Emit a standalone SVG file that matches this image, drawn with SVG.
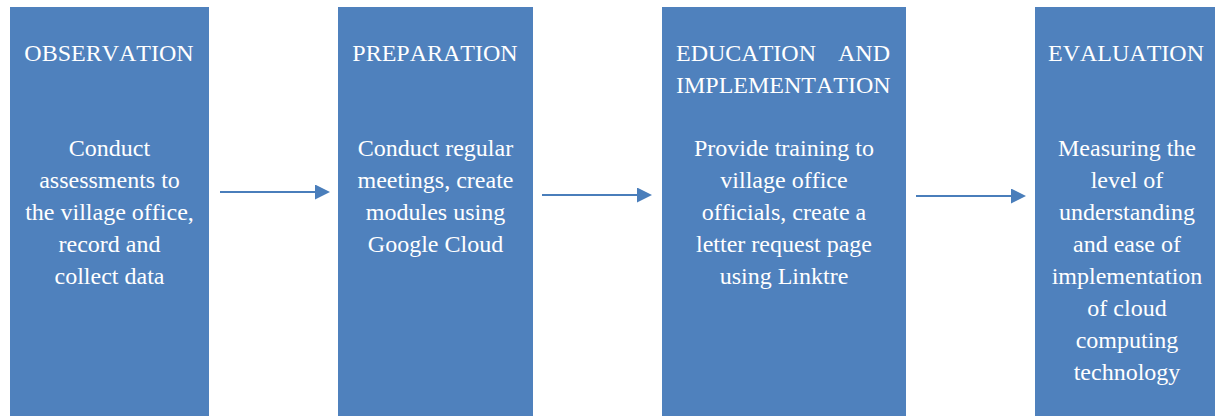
<svg xmlns="http://www.w3.org/2000/svg" width="1215" height="416" viewBox="0 0 1215 416">
<style>
.box{fill:#4F81BD;}
.t{font-family:"Liberation Serif","Times New Roman",serif;font-size:24px;fill:#FFFFFF;font-kerning:none;}
.c{text-anchor:middle;}
.conn{stroke:#4A7EBB;stroke-width:2;fill:none;}
</style>
<defs>
<marker id="ah" markerUnits="userSpaceOnUse" markerWidth="16" markerHeight="16" refX="11" refY="7.5" orient="auto">
<path d="M0,0 L15,7.5 L0,15 Z" fill="#4A7EBB"/>
</marker>
</defs>
<rect width="1215" height="416" fill="#FFFFFF"/>
<g id="node-observation">
<rect class="box" x="10" y="7" width="199" height="409"/>
<text class="t c" x="109" y="61">OBSERVATION</text>
<text class="t c" x="109.5" y="156">Conduct</text>
<text class="t c" x="109.5" y="188">assessments to</text>
<text class="t c" x="109.5" y="220">the village office,</text>
<text class="t c" x="109.5" y="252">record and</text>
<text class="t c" x="109.5" y="284">collect data</text>
</g>
<g id="node-preparation">
<rect class="box" x="338" y="7" width="195" height="409"/>
<text class="t c" x="435" y="61">PREPARATION</text>
<text class="t c" x="435.5" y="156">Conduct regular</text>
<text class="t c" x="435.5" y="188">meetings, create</text>
<text class="t c" x="435.5" y="220">modules using</text>
<text class="t c" x="435.5" y="252">Google Cloud</text>
</g>
<g id="node-education">
<rect class="box" x="662" y="7" width="244" height="409"/>
<text class="t" x="676" y="61">EDUCATION</text>
<text class="t" x="890" y="61" text-anchor="end">AND</text>
<text class="t" x="676" y="93">IMPLEMENTATION</text>
<text class="t c" x="784" y="156">Provide training to</text>
<text class="t c" x="784" y="188">village office</text>
<text class="t c" x="784" y="220">officials, create a</text>
<text class="t c" x="784" y="252">letter request page</text>
<text class="t c" x="784" y="284">using Linktre</text>
</g>
<g id="node-evaluation">
<rect class="box" x="1035" y="7" width="185" height="409"/>
<text class="t c" x="1126" y="61">EVALUATION</text>
<text class="t c" x="1127" y="156">Measuring the</text>
<text class="t c" x="1127" y="188">level of</text>
<text class="t c" x="1127" y="220">understanding</text>
<text class="t c" x="1127" y="252">and ease of</text>
<text class="t c" x="1127" y="284">implementation</text>
<text class="t c" x="1127" y="316">of cloud</text>
<text class="t c" x="1127" y="348">computing</text>
<text class="t c" x="1127" y="380">technology</text>
</g>
<g id="connectors">
<line class="conn" x1="220" y1="192" x2="326" y2="192" marker-end="url(#ah)"/>
<line class="conn" x1="542" y1="195" x2="648" y2="195" marker-end="url(#ah)"/>
<line class="conn" x1="916" y1="196" x2="1022" y2="196" marker-end="url(#ah)"/>
</g>
</svg>
